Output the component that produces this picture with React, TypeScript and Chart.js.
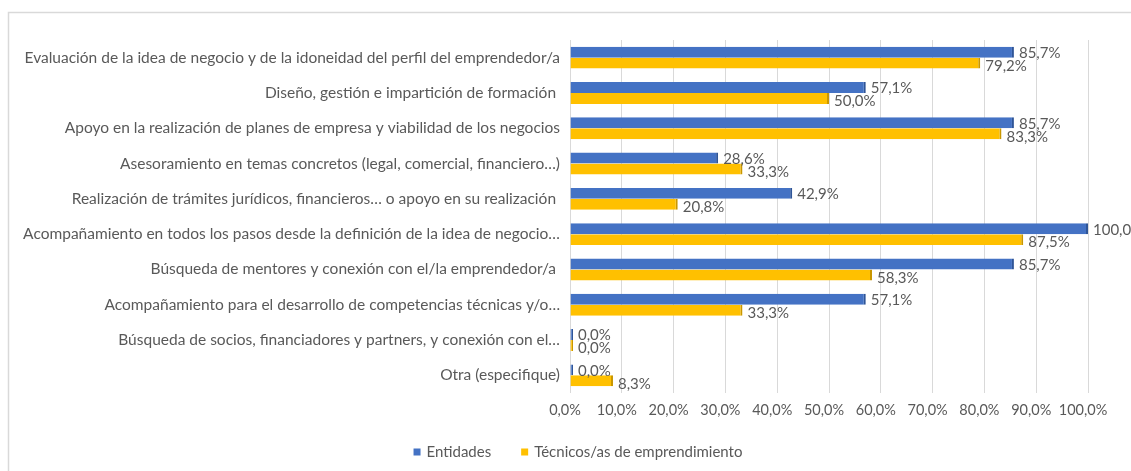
import React, { useEffect, useRef } from "react";
import { Chart, registerables } from "chart.js";

Chart.register(...registerables);

const categories: string[] = [
  "Evaluación de la idea de negocio y de la idoneidad del perfil del emprendedor/a",
  "Diseño, gestión e impartición de formación ",
  "Apoyo en la realización de planes de empresa y viabilidad de los negocios",
  "Asesoramiento en temas concretos (legal, comercial, financiero…)",
  "Realización de trámites jurídicos, financieros… o apoyo en su realización ",
  "Acompañamiento en todos los pasos desde la definición de la idea de negocio…",
  "Búsqueda de mentores y conexión con el/la emprendedor/a ",
  "Acompañamiento para el desarrollo de competencias técnicas y/o…",
  "Búsqueda de socios, financiadores y partners, y conexión con el…",
  "Otra (especifique)",
];

const entidades: number[] = [85.7, 57.1, 85.7, 28.6, 42.9, 100.0, 85.7, 57.1, 0.0, 0.0];
const tecnicos: number[] = [79.2, 50.0, 83.3, 33.3, 20.8, 87.5, 58.3, 33.3, 0.0, 8.3];

const seriesNames: string[] = ["Entidades", "Técnicos/as de emprendimiento"];
const xTicks: number[] = [0, 10, 20, 30, 40, 50, 60, 70, 80, 90, 100];

const BLUE = "#4472C4";
const BLUE_EDGE = "#2F5597";
const YELLOW = "#FFC000";
const YELLOW_EDGE = "#C99700";
const TEXT = "#595959";
const FONT = "Lato";

const fmt = (v: number) => v.toFixed(1).replace(".", ",") + "%";

export default function App() {
  const ref = useRef<HTMLCanvasElement | null>(null);

  useEffect(() => {
    document.body.style.margin = "0";
    const canvas = ref.current;
    if (!canvas) return;

    const framePlugin = {
      id: "frame",
      beforeDraw(chart: any) {
        const ctx = chart.ctx;
        ctx.save();
        ctx.fillStyle = "#ffffff";
        ctx.fillRect(0, 0, chart.width, chart.height);
        ctx.strokeStyle = "#D9D9D9";
        ctx.lineWidth = 1.5;
        ctx.strokeRect(8.5, 12.5, chart.width + 20, chart.height + 20);
        ctx.restore();
      },
    };

    const labelPlugin = {
      id: "valueLabels",
      afterDatasetsDraw(chart: any) {
        const ctx = chart.ctx;
        ctx.save();
        ctx.font = `15px ${FONT}`;
        ctx.fillStyle = TEXT;
        ctx.textAlign = "left";
        ctx.textBaseline = "middle";
        chart.data.datasets.forEach((ds: any, di: number) => {
          const meta = chart.getDatasetMeta(di);
          meta.data.forEach((el: any, i: number) => {
            const v = ds.data[i] as number;
            const dy = di === 0 ? 1 : 3;
            ctx.fillText(fmt(v), el.x + 5, el.y + dy);
          });
        });
        ctx.restore();
      },
    };

    const legendPlugin = {
      id: "customLegend",
      afterDraw(chart: any) {
        const ctx = chart.ctx;
        ctx.save();
        ctx.font = `15px ${FONT}`;
        ctx.textBaseline = "middle";
        ctx.textAlign = "left";
        const colors = [BLUE, YELLOW];
        const box = 7;
        const gapText = 6;
        const gapItem = 30;
        const widths = seriesNames.map((n) => ctx.measureText(n).width);
        const total = widths.reduce((a, w) => a + box + gapText + w, 0) + gapItem * (seriesNames.length - 1);
        let x = 578 - total / 2;
        const y = 452;
        seriesNames.forEach((n, i) => {
          ctx.fillStyle = colors[i];
          ctx.fillRect(x, y - box / 2, box, box);
          x += box + gapText;
          ctx.fillStyle = TEXT;
          ctx.fillText(n, x, y);
          x += widths[i] + gapItem;
        });
        ctx.restore();
      },
    };

    const chart = new Chart(canvas, {
      type: "bar",
      data: {
        labels: categories,
        datasets: [
          {
            label: seriesNames[0],
            data: entidades,
            backgroundColor: BLUE,
            borderColor: BLUE_EDGE,
            borderWidth: { right: 2, top: 0, bottom: 0, left: 0 },
            borderSkipped: false,
            categoryPercentage: 0.62,
            barPercentage: 1.0,
            minBarLength: 3,
          },
          {
            label: seriesNames[1],
            data: tecnicos,
            backgroundColor: YELLOW,
            borderColor: YELLOW_EDGE,
            borderWidth: { right: 2, top: 0, bottom: 0, left: 0 },
            borderSkipped: false,
            categoryPercentage: 0.62,
            barPercentage: 1.0,
            minBarLength: 3,
          },
        ],
      },
      options: {
        indexAxis: "y",
        responsive: false,
        animation: false,
        devicePixelRatio: 1,
        layout: { padding: { left: 10, right: 43, top: 40, bottom: 0 } },
        plugins: {
          legend: { display: false },
          tooltip: { enabled: false },
        },
        scales: {
          x: {
            type: "linear",
            min: 0,
            max: 100,
            afterBuildTicks(axis: any) {
              axis.ticks = xTicks.map((v) => ({ value: v }));
            },
            afterFit(axis: any) {
              axis.height = 78;
            },
            ticks: {
              callback: (v: any) => fmt(Number(v)),
              color: TEXT,
              font: { family: FONT, size: 14.5 },
              padding: 9,
              labelOffset: -5,
              maxRotation: 0,
            },
            grid: { color: "#D9D9D9", lineWidth: 1, drawTicks: false },
            border: { display: false },
          },
          y: {
            type: "category",
            afterFit(axis: any) {
              axis.width = 560;
            },
            ticks: {
              color: TEXT,
              font: { family: FONT, size: 15.5 },
              padding: 10,
              autoSkip: false,
            },
            grid: { display: false, drawTicks: false },
            border: { display: false },
          },
        },
      },
      plugins: [framePlugin, labelPlugin, legendPlugin],
    } as any);

    return () => chart.destroy();
  }, []);

  return <canvas ref={ref} width={1131} height={471} style={{ display: "block" }} />;
}
